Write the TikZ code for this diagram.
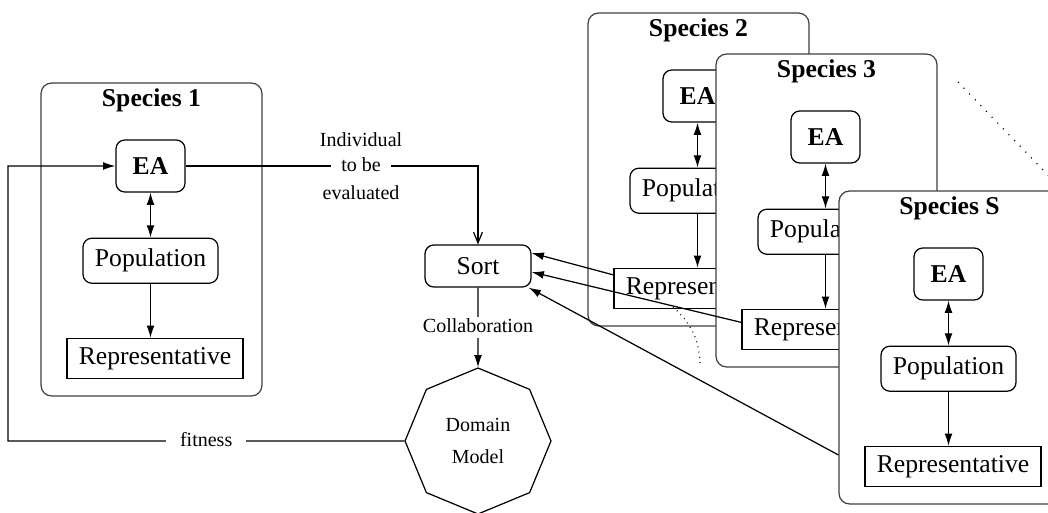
\documentclass[tikz,border=0pt]{standalone}
\usepackage{fontspec}
\setmainfont{Liberation Serif}
\usetikzlibrary{positioning, arrows.meta, shapes.geometric}
\newcommand{\spbig}{\fontsize{14.6}{17}\selectfont}
\newcommand{\spsmall}{\fontsize{11.4}{15}\selectfont}

\begin{document}
\begin{tikzpicture}[
		x=0.02cm, y=-0.02cm, line width=0.7pt,
		frame/.style={draw=black!75, rectangle, rounded corners=6pt, fill=white, minimum width=4.42cm, minimum height=6.26cm},
		title/.style={font=\spbig\bfseries, inner sep=1pt},
		eabox/.style={draw, rectangle, rounded corners=5pt, fill=white, minimum width=1.38cm, minimum height=1.04cm, font=\spbig\bfseries},
		popbox/.style={draw, rectangle, rounded corners=5pt, fill=white, minimum width=2.7cm, minimum height=0.9cm, font=\spbig},
		repbox/.style={draw, rectangle, fill=white, minimum width=3.52cm, minimum height=0.8cm, font=\spbig},
		sortbox/.style={draw, rectangle, rounded corners=5pt, fill=white, minimum width=2.12cm, minimum height=0.84cm, font=\spbig},
		model/.style={draw, regular polygon, regular polygon sides=8, shape border rotate=22.5, minimum size=2.92cm, inner sep=0pt, align=center, font=\spsmall},
		flowlabel/.style={font=\spsmall, inner sep=2pt, text height=1.5ex, text depth=0.25ex},
		arrow/.style={-{Latex[length=7pt, width=4.5pt]}},
		dbl/.style={{Latex[length=7pt, width=4.5pt]}-{Latex[length=7pt, width=4.5pt]}},
		open/.style={-{Straight Barb[length=6pt, width=5pt]}}
		]
		\useasboundingbox (0,0) rectangle (1048,513);
		
		% Species, each one drawn over the previous one
		\foreach \n/\x/\y in {1/41/83, 2/588/13, 3/716/54, S/839/191}{
			\node[frame] (frame\n) at (\x+110.5,\y+156.5) {};
			\node[title] (title\n) at (\x+110.5,\y+17) {Species \n};
			\node[eabox] (ea\n) at (\x+109.5,\y+83) {EA};
			\node[popbox, below=0.9cm of ea\n] (pop\n) {Population};
			\node[repbox, below=1.08cm of pop\n, xshift=0.09cm] (rep\n) {Representative};
			\draw[dbl] (ea\n) -- (pop\n);
			\draw[arrow] (pop\n) -- (pop\n |- rep\n.north);
		}
		
		% Evaluation
		\node[sortbox] (sort) at (478,266) {Sort};
		\node[model] (model) at (478,441) {Domain\\[3pt]Model};
		\coordinate (back) at (8,441);
		
		\draw[open] (ea1.east) -| node[pos=0.3, flowlabel, fill=white, inner xsep=6pt] (tobe) {to be} (sort.north);
		\node[flowlabel] at ([yshift=0.5cm]tobe) {Individual};
		\node[flowlabel] at ([yshift=-0.56cm]tobe) {evaluated};
		
		\draw[arrow] (sort) -- node[midway, flowlabel, fill=white] {Collaboration} (model);
		\draw[arrow] (model.west) -- node[midway, flowlabel, fill=white, inner xsep=8pt] {fitness} (back) |- (ea1.west);
		
		% Representatives sent to the sorter
		\draw[arrow] ([yshift=0.27cm]rep2.west) -- ([yshift=0.26cm]sort.east);
		\draw[arrow] ([yshift=0.14cm]rep3.west) -- ([yshift=-0.12cm]sort.east);
		\draw[arrow] ([yshift=-2.15cm]frameS.west) -- ([xshift=-0.06cm]sort.south east);
		
		% More species
		\draw[dash pattern=on 0.6pt off 4pt] (958,82) -- (1075,203);
		\draw[dash pattern=on 0.5pt off 2.5pt] (673,307) .. controls (690,322) and (700,340) .. (700,365);
		
	\end{tikzpicture}
\end{document}
